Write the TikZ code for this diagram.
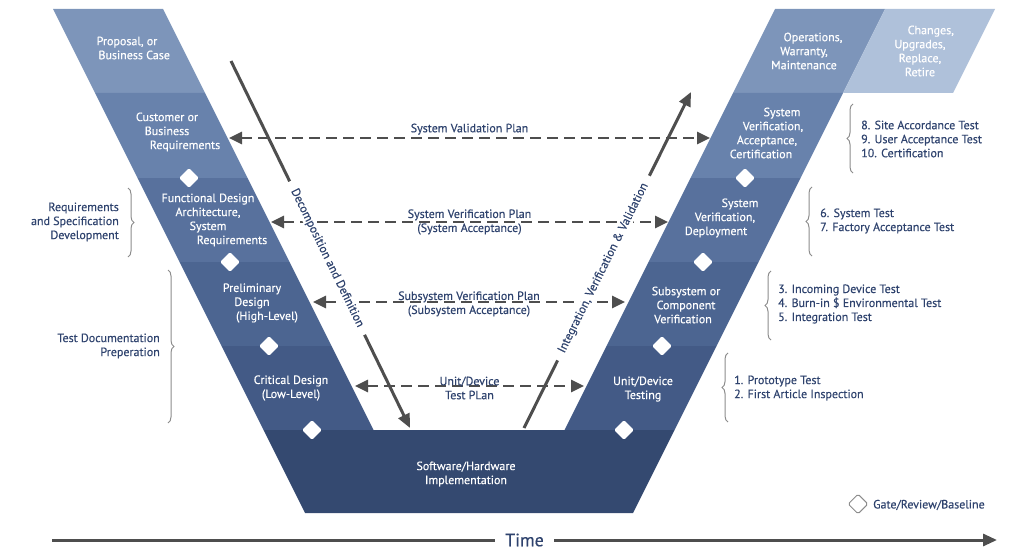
\documentclass[tikz,border=0pt]{standalone}
\usepackage{fontspec}
\setmainfont{PT Sans}
\newfontfamily\semibold{PT Sans}[FakeBold=0.35]
\usetikzlibrary{arrows.meta}
\usetikzlibrary{decorations.pathreplacing}
\usetikzlibrary{shapes.geometric}
\definecolor{bandA}{HTML}{7D95BA}
\definecolor{bandB}{HTML}{6882AC}
\definecolor{bandC}{HTML}{58719D}
\definecolor{bandD}{HTML}{4C6591}
\definecolor{bandE}{HTML}{435A86}
\definecolor{bandF}{HTML}{344970}
\definecolor{retire}{HTML}{AFC1DA}
\definecolor{navy}{HTML}{2F436E}
\definecolor{arrowgray}{HTML}{4E4E4E}
\definecolor{bracegray}{HTML}{8C8C8C}
\newcommand{\txt}{\semibold\fontsize{12}{14}\selectfont}

\begin{document}
\begin{tikzpicture}[x=1pt, y=-1pt,
    phase/.style={text=white, align=center, font=\txt, inner sep=0pt},
    label/.style={text=navy, font=\txt, inner sep=0pt},
    gate/.style={diamond, fill=white, minimum size=20pt, inner sep=0pt, rounded corners=1.5pt},
    plan/.style={draw=arrowgray, line width=2.6pt, dash pattern=on 11pt off 6pt,
        {Triangle[length=13pt, width=12pt]}-{Triangle[length=13pt, width=12pt]}},
    flow/.style={draw=arrowgray, line width=3pt, -{Triangle[length=14pt, width=12pt]}},
    curly/.style={draw=bracegray, line width=1pt, decorate, decoration={brace, amplitude=6pt}}]

    \useasboundingbox (0,0) rectangle (1024,559);

    % left arm
    \fill[bandA] (53,9) -- (163,9) -- (205,93) -- (95,93) -- cycle;
    \fill[bandB] (95,93) -- (205,93) -- (247.5,178) -- (137.5,178) -- cycle;
    \fill[bandC] (137.5,178) -- (247.5,178) -- (289.5,262) -- (179.5,262) -- cycle;
    \fill[bandD] (179.5,262) -- (289.5,262) -- (331.5,346) -- (221.5,346) -- cycle;
    \fill[bandE] (221.5,346) -- (331.5,346) -- (373.5,430) -- (263.5,430) -- cycle;

    % right arm
    \fill[bandA] (775,9) -- (885,9) -- (843,93) -- (733,93) -- cycle;
    \fill[retire] (885,9) -- (995,9) -- (953,93) -- (843,93) -- cycle;
    \fill[bandB] (733,93) -- (843,93) -- (800.5,178) -- (690.5,178) -- cycle;
    \fill[bandC] (690.5,178) -- (800.5,178) -- (758.5,262) -- (648.5,262) -- cycle;
    \fill[bandD] (648.5,262) -- (758.5,262) -- (716.5,346) -- (606.5,346) -- cycle;
    \fill[bandE] (606.5,346) -- (716.5,346) -- (674.5,430) -- (564.5,430) -- cycle;

    % bottom
    \fill[bandF] (263.5,430) -- (674.5,430) -- (633,513) -- (305,513) -- cycle;

    \node[phase] (proposal) at (127,48) {Proposal, or\\\hspace*{1.2em}Business Case};
    \node[phase] (customer) at (167,132) {Customer or\\Business\\\hspace*{3em}Requirements};
    \node[phase] (functional) at (208,220) {Functional Design\\Architecture,\\System\\\hspace*{4em}Requirements};
    \node[phase] (preliminary) at (252,303) {Preliminary\\Design\\\hspace*{2.5em}(High-Level)};
    \node[phase] (critical) at (291,388) {Critical Design\\(Low-Level)};
    \node[phase] (implementation) at (466,474) {Software/Hardware\\Implementation};
    \node[phase] (operations) at (804,51) {\hspace*{1.5em}Operations,\\Warranty,\\Maintenance};
    \node[phase] (changes) at (920,51) {\hspace*{1.8em}Changes,\\Upgrades,\\Replace,\\Retire};
    \node[phase] (sysacc) at (767,133) {\hspace*{2.5em}System\\\hspace*{1em}Verification,\\Acceptance,\\Certification\hspace*{1em}};
    \node[phase] (sysdep) at (725,218) {\hspace*{2.5em}System\\Verification,\\Deployment\hspace*{1.5em}};
    \node[phase] (subsys) at (686,305) {Subsystem or\\Component\\Verification\hspace*{0.5em}};
    \node[phase] (unittest) at (643,389) {Unit/Device\\Testing};

    % gates
    \node[gate] (g1) at (189,178) {};
    \node[gate] (g2) at (230,262) {};
    \node[gate] (g3) at (269,346) {};
    \node[gate] (g4) at (312,430) {};
    \node[gate] (g5) at (745,178) {};
    \node[gate] (g6) at (703,262) {};
    \node[gate] (g7) at (662,346) {};
    \node[gate] (g8) at (624,430) {};

    % plans
    \coordinate (svp-l) at (229,138);
    \coordinate (svp-r) at (710,138);
    \coordinate (sver-l) at (271,222);
    \coordinate (sver-r) at (668,222);
    \coordinate (sub-l) at (313,302);
    \coordinate (sub-r) at (625,302);
    \coordinate (unit-l) at (355,386);
    \coordinate (unit-r) at (584,386);
    \draw[plan] (svp-l) -- node[label, above=2pt] (svptext) {System Validation Plan} (svp-r);
    \draw[plan] (sver-l) -- node[label, align=center] (svertext) {System Verification Plan\\(System Acceptance)} (sver-r);
    \draw[plan] (sub-l) -- node[label, align=center, yshift=-2pt] (subtext) {Subsystem Verification Plan\\(Subsystem Acceptance)} (sub-r);
    \draw[plan] (unit-l) -- node[label, align=center, yshift=-2pt] (unittext) {Unit/Device\\Test PLan} (unit-r);

    % diagonal flows
    \coordinate (dd-a) at (231,61);
    \coordinate (dd-b) at (410,428);
    \coordinate (iv-a) at (524,428);
    \coordinate (iv-b) at (691,92);
    \draw[flow] (dd-a) -- node[pos=0.537, sloped, fill=white, text=navy, font=\txt,
        inner xsep=9pt, inner ysep=0.5pt] (ddtext) {Decomposition and Definition} (dd-b);
    \draw[flow] (iv-a) -- node[pos=0.476, sloped, fill=white, text=navy, font=\txt,
        inner xsep=9pt, inner ysep=0.5pt] (ivtext) {Integration, Verification \& Validation} (iv-b);

    % braces
    \draw[curly] (128,188) -- (128,257);
    \draw[curly] (168,270) -- (168,423);
    \draw[curly] (853,173) -- (853,104);
    \draw[curly] (812,256) -- (812,187);
    \draw[curly] (771,340) -- (771,271);
    \draw[curly] (728,422) -- (728,353);

    \node[label, anchor=east, align=right] (reqspec) at (119,222) {Requirements\\and Specification\\Development};
    \node[label, anchor=east, align=right] (testdoc) at (160,346) {Test Documentation\\Preperation};
    \node[label, anchor=west, align=left] (tests3) at (861,139) {8. Site Accordance Test\\9. User Acceptance Test\\10. Certification};
    \node[label, anchor=west, align=left] (tests2) at (820,221) {6. System Test\\7. Factory Acceptance Test};
    \node[label, anchor=west, align=left] (tests1) at (778,304) {3. Incoming Device Test\\4. Burn-in \$ Environmental Test\\5. Integration Test};
    \node[label, anchor=west, align=left] (tests0) at (734,388) {1. Prototype Test\\2. First Article Inspection};

    % legend
    \node[gate, fill=white, draw=bracegray, line width=1pt] (legend) at (858,504) {};
    \node[label, anchor=west] (legendtext) at (873,505) {Gate/Review/Baseline};

    % time
    \coordinate (time-a) at (52,540);
    \coordinate (time-b) at (997,540);
    \draw[flow] (time-a) -- node[pos=0.5, fill=white, text=navy, font=\semibold\fontsize{18}{20}\selectfont,
        inner xsep=10pt] (timetext) {Time} (time-b);

\end{tikzpicture}
\end{document}
